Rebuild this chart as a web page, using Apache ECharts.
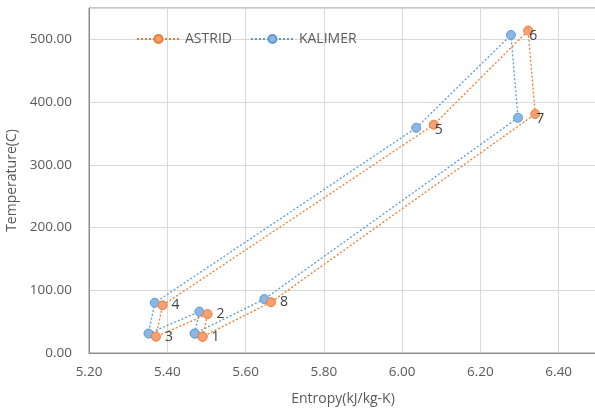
<!DOCTYPE html>
<html><head><meta charset="utf-8">
<script src="https://cdn.jsdelivr.net/npm/echarts@6/dist/echarts.min.js"></script>
<style>html,body{margin:0;padding:0;background:#fff}#c{width:595px;height:408px}</style>
</head><body><div id="c"></div>
<script>
var pointLabels = ['1','2','3','4','5','6','7','8'];
var astridS = [5.490, 5.503, 5.371, 5.388, 6.081, 6.322, 6.340, 5.665];
var astridT = [26, 62, 26, 76, 364, 514, 381, 81];
var kalimerS = [5.470, 5.482, 5.352, 5.368, 6.036, 6.278, 6.296, 5.648];
var kalimerT = [31, 66, 31, 80, 359, 507, 375, 86];
var xTicks = [5.2, 5.4, 5.6, 5.8, 6.0, 6.2, 6.4];
var yTicks = [0, 100, 200, 300, 400, 500];

var font = 'Open Sans';
function loop(xs, ys, withLabels) {
  var out = [];
  for (var i = 0; i <= xs.length; i++) {
    var k = i % xs.length;
    var item = { value: [xs[k], ys[k]] };
    if (withLabels && i < xs.length) {
      var over = (k === 4 || k === 5 || k === 6);
      item.label = over ? { show: true, position: 'inside', offset: [5, 5], formatter: pointLabels[k] }
                        : { show: true, position: 'right', distance: 4, formatter: pointLabels[k] };
    } else {
      item.label = { show: false };
    }
    out.push(item);
  }
  return out;
}
var chart = echarts.init(document.getElementById('c'));
chart.setOption({
  animation: false,
  backgroundColor: '#fff',
  grid: { left: 89, top: 8, bottom: 55, right: -42, containLabel: false, outerBoundsMode: 'none',
    show: true, borderColor: '#8c8c8c', borderWidth: 1, backgroundColor: 'transparent' },
  legend: {
    left: 131, top: 27, itemWidth: 43, itemHeight: 10, itemGap: 18,
    textStyle: { color: '#595959', fontSize: 14, fontFamily: font },
    data: ['ASTRID', 'KALIMER']
  },
  xAxis: {
    type: 'value', min: 5.2, max: 6.6, interval: 0.2,
    name: 'Entropy(kJ/kg-K)', nameLocation: 'middle', nameGap: 39,
    nameTextStyle: { color: '#595959', fontSize: 14, fontFamily: font, padding: [0, 40, 0, 0] },
    axisLine: { show: true, lineStyle: { color: '#8c8c8c' } },
    axisTick: { show: false },
    axisLabel: { color: '#595959', fontSize: 13.5, fontFamily: font, margin: 12, showMaxLabel: false,
      formatter: function (v) { return v.toFixed(2); } },
    splitLine: { show: true, lineStyle: { color: '#d9d9d9' } }
  },
  yAxis: {
    type: 'value', min: 0, max: 550, interval: 100,
    name: 'Temperature(C)', nameLocation: 'middle', nameGap: 64,
    nameTextStyle: { color: '#595959', fontSize: 14, fontFamily: font },
    axisLine: { show: true, lineStyle: { color: '#8c8c8c' } },
    axisTick: { show: false },
    axisLabel: { color: '#595959', fontSize: 13.5, fontFamily: font, margin: 17, showMaxLabel: false,
      formatter: function (v) { return v.toFixed(2); } },
    splitLine: { show: true, lineStyle: { color: '#d9d9d9' } }
  },
  series: [
    {
      name: 'ASTRID', type: 'line', data: loop(astridS, astridT, true),
      symbol: 'circle', symbolSize: 9,
      itemStyle: { color: '#F4A074', borderColor: '#ED7D31', borderWidth: 1 },
      lineStyle: { color: '#ED7D31', width: 1.3, type: [2, 2] },
      label: { color: '#404040', fontSize: 14, fontFamily: font },
      z: 3
    },
    {
      name: 'KALIMER', type: 'line', data: loop(kalimerS, kalimerT, false),
      symbol: 'circle', symbolSize: 9,
      itemStyle: { color: '#8DB5E3', borderColor: '#5B9BD5', borderWidth: 1 },
      lineStyle: { color: '#5B9BD5', width: 1.3, type: [2, 2] },
      z: 2
    }
  ]
});
</script></body></html>
